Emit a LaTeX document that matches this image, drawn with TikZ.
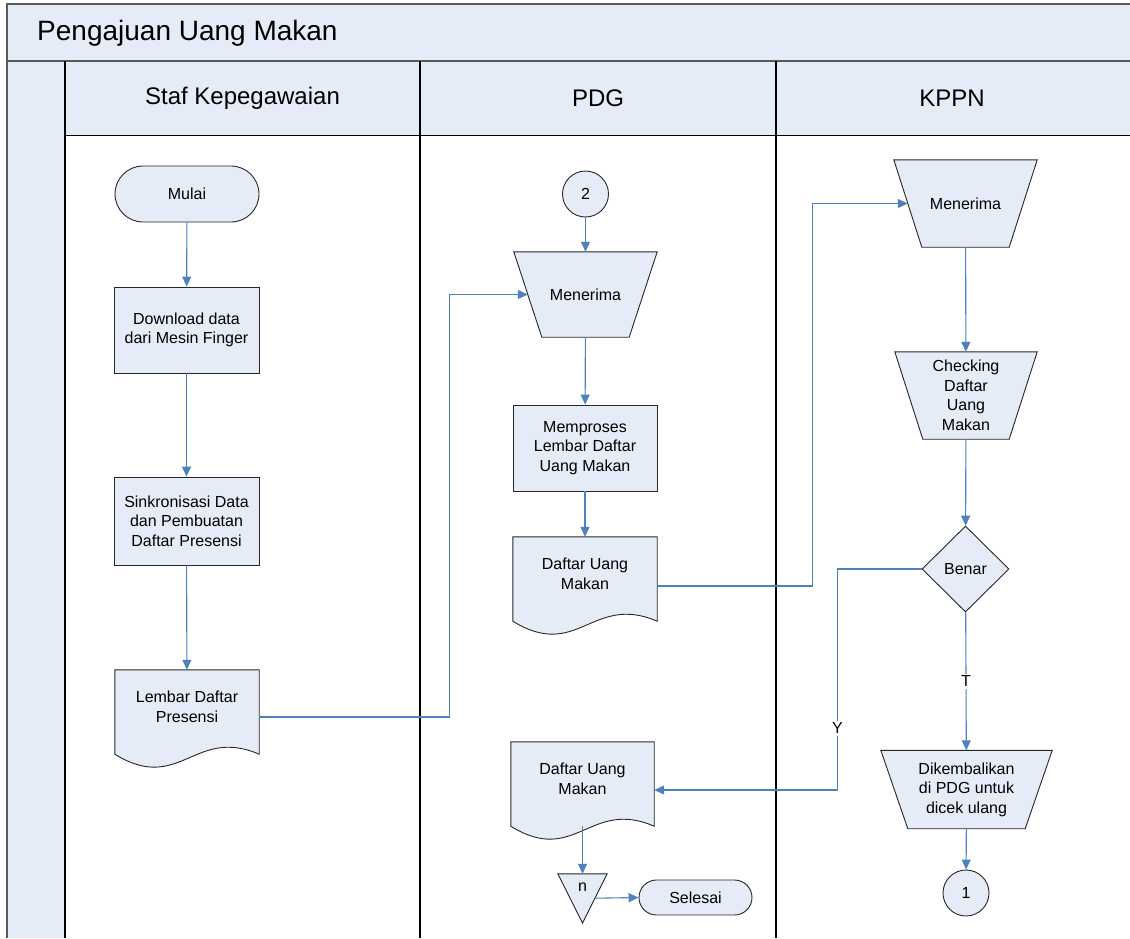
\documentclass[tikz,border=0pt]{standalone}
\usepackage{fontspec}
\setmainfont{Liberation Sans}
\usetikzlibrary{arrows.meta,shapes.geometric,backgrounds,calc}
\definecolor{shfill}{HTML}{E6ECF7}
\definecolor{connc}{HTML}{4F81BD}
\definecolor{edgec}{HTML}{262626}
\definecolor{framec}{HTML}{595959}
\newcommand\mytrap[2]{\draw[outl] (#1.north west) -- (#1.north east) -- ($(#1.south east)+(-#2,0)$) -- ($(#1.south west)+(#2,0)$) -- cycle;}
\newcommand\mydoc[1]{\draw[outl] (#1.north west) -- (#1.north east) -- ($(#1.south east)+(0,10)$) .. controls ($(#1.south west)!0.55!(#1.south east)+(0,-18)$) and ($(#1.south west)!0.45!(#1.south east)+(0,50)$) .. ($(#1.south west)+(0,10)$) -- cycle;}
\begin{document}
\begin{tikzpicture}[x=1pt,y=-1pt,
  txt/.style={align=center, font=\fontsize{16}{19.5}\selectfont},
  box/.style={txt, draw=edgec, fill=shfill, line width=0.9pt, inner sep=0pt},
  proc/.style={box, rectangle, minimum width=145pt, minimum height=86pt},
  hold/.style={txt, rectangle, draw=none, fill=none, inner sep=0pt},
  outl/.style={draw=edgec, fill=shfill, line width=0.9pt},
  circ/.style={box, circle, minimum size=46pt},
  conn/.style={draw=connc, line width=1.1pt, -{Triangle[length=10pt,width=9pt]}},
  lbl/.style={fill=white, inner sep=2pt, font=\fontsize{16}{19}\selectfont},
  lane/.style={font=\fontsize{24}{28}\selectfont}
]
\useasboundingbox (0,0) rectangle (1130,938);
\begin{scope}[on background layer]
  \fill[shfill] (7,4) rectangle (1130,61);
  \fill[shfill] (65,61) rectangle (1130,135);
  \fill[shfill] (7,61) rectangle (65,938);
  \draw[framec, line width=2pt] (1130,4) -- (7,4) -- (7,938);
  \draw[framec, line width=2pt] (7,61) -- (1130,61);
  \draw[black, line width=1.2pt] (65,61) -- (65,938);
  \draw[black, line width=1.2pt] (420,61) -- (420,938);
  \draw[black, line width=1.2pt] (776,61) -- (776,938);
  \draw[black, line width=1pt] (65,135) -- (1130,135);
\end{scope}

\node[anchor=west, inner sep=0pt, font=\fontsize{28}{32}\selectfont] (title) at (37,33) {Pengajuan Uang Makan};
\node[lane] (l1) at (242.5,98) {Staf Kepegawaian};
\node[lane] (l2) at (598,98) {PDG};
\node[lane] (l3) at (952,98) {KPPN};

% Lane 1
\node[box, rectangle, rounded corners=28pt, minimum width=144pt, minimum height=56pt] (mulai) at (187,194) {Mulai};
\node[proc] (dl) at (186.5,330) {Download data\\dari Mesin Finger};
\node[proc, minimum height=88pt] (sink) at (186.5,521) {Sinkronisasi Data\\dan Pembuatan\\Daftar Presensi};
\node[hold, minimum width=144pt, minimum height=74pt] (lem) at (187,707) {Lembar Daftar\\Presensi};

% Lane 2
\node[circ] (c2) at (585.5,194) {2};
\node[hold, minimum width=143pt, minimum height=85pt] (mer1) at (585.5,294.5) {Menerima};
\node[proc, minimum width=144pt] (mem) at (585,448) {Memproses\\Lembar Daftar\\Uang Makan};
\node[hold, minimum width=144pt, minimum height=74pt] (dum1) at (585,574) {Daftar Uang\\Makan};
\node[hold, minimum width=143pt, minimum height=74pt] (dum2) at (582.5,779) {Daftar Uang\\Makan};
\node[hold, minimum width=49pt, minimum height=26pt] (tri) at (582.5,887) {n};
\node[box, rectangle, rounded corners=17.5pt, minimum width=113pt, minimum height=35pt] (sel) at (695.5,897.5) {Selesai};

% Lane 3
\node[hold, minimum width=143pt, minimum height=87pt] (mer2) at (965.5,203.5) {Menerima};
\node[hold, minimum width=142pt, minimum height=87pt] (chk) at (966,395.5) {Checking\\Daftar\\Uang\\Makan};
\node[box, diamond, minimum width=87pt, minimum height=86pt] (ben) at (965.5,569) {Benar};
\node[hold, minimum width=171pt, minimum height=78pt] (dik) at (966.5,789.5) {Dikembalikan\\di PDG untuk\\dicek ulang};
\node[circ] (c1) at (966,893) {1};

\begin{scope}[on background layer]
  \mydoc{lem}
  \mydoc{dum1}
  \mydoc{dum2}
  \mytrap{mer1}{28}
  \mytrap{mer2}{28}
  \mytrap{chk}{28}
  \mytrap{dik}{27}
  \draw[outl] (tri.north west) -- (tri.north east) -- ($(tri.south)+(0,23)$) -- cycle;
\end{scope}

% Connectors
\draw[conn] (mulai) -- (dl);
\draw[conn] (dl) -- (sink);
\draw[conn] (sink) -- (lem);
\draw[conn] ($(lem.east)+(0,10)$) -- ++(190,0) |- ($(mer1.west)+(14,0)$);
\draw[conn] (c2) -- (mer1);
\draw[conn] (mer1) -- (mem);
\draw[conn] (mem) -- (dum1);
\draw[conn] ($(dum1.east)+(0,12)$) -- ++(155,0) |- ($(mer2.west)+(14,0)$);
\draw[conn] (mer2) -- (chk);
\draw[conn] (chk) -- (ben);
\draw[conn] (ben) -- node[lbl] {T} (dik);
\draw[conn] (dik) -- (c1);
\draw[conn] (ben.west) -- ++(-84,0) |- node[lbl, pos=0.36] {Y} ($(dum2.east)+(0,11)$);
\draw[conn] ($(dum2.south)+(0,10)$) -- (tri.north);
\draw[conn] ($(tri.south east)+(-12,-2)$) -- (sel.west);
\end{tikzpicture}
\end{document}
